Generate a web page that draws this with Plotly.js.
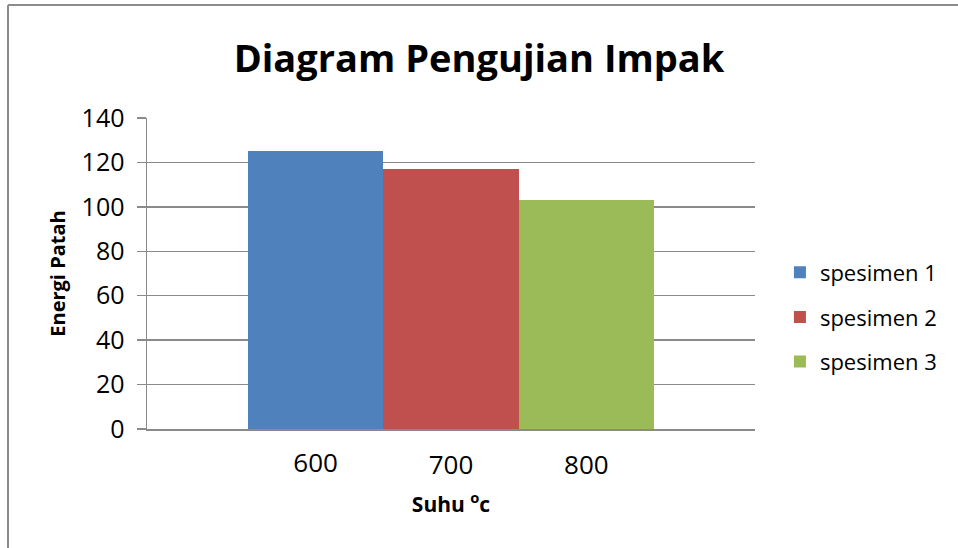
<!DOCTYPE html>
<html>
<head>
<meta charset="utf-8">
<script src="https://cdn.plot.ly/plotly-3.0.1.min.js"></script>
<style>html,body{margin:0;padding:0;background:#fff;}#chart{width:958px;height:548px;}</style>
</head>
<body>
<div id="chart"></div>
<script>
// Data
const categories = ["600", "700", "800"];
const seriesNames = ["spesimen 1", "spesimen 2", "spesimen 3"];
const seriesValues = [125, 117, 103];
const seriesColors = ["#4F81BD", "#C0504D", "#9BBB59"];
const yTicks = [0, 20, 40, 60, 80, 100, 120, 140];

const FONT = "'Open Sans', 'Noto Sans', sans-serif";

const traces = seriesNames.map((name, i) => ({
  type: "bar",
  name: name,
  x: [i],
  y: [seriesValues[i]],
  width: 1,
  xaxis: i === 0 ? "x" : "x2",
  marker: {color: seriesColors[i], line: {width: 0}},
  legendgroup: "g" + i,
  hoverinfo: "x+y+name"
}));

const layout = {
  width: 958,
  height: 548,
  margin: {l: 147, r: 203, t: 118, b: 119, pad: 0},
  paper_bgcolor: "#ffffff",
  plot_bgcolor: "#ffffff",
  barmode: "overlay",
  bargap: 0,
  title: {
    text: "<b>Diagram Pengujian Impak</b>",
    font: {family: FONT, size: 38, color: "#000"},
    x: 0.5, xanchor: "center", xref: "container",
    y: 1 - 59 / 548, yanchor: "middle", yref: "container"
  },
  xaxis: {
    range: [-1.245, 3.245],
    tickmode: "array",
    tickvals: [0],
    ticktext: [categories[0]],
    ticks: "",
    showgrid: false,
    zeroline: false,
    showline: true,
    linecolor: "#8a8a8a",
    linewidth: 1.5,
    tickfont: {family: FONT, size: 26, color: "#000"},
    ticklabelstandoff: 10,
    title: {
      text: "<b>Suhu <sup>o</sup>c</b>",
      font: {family: FONT, size: 21, color: "#000"},
      standoff: 18
    },
    fixedrange: true
  },
  xaxis2: {
    overlaying: "x",
    side: "bottom",
    anchor: "y",
    range: [-1.245, 3.245],
    tickmode: "array",
    tickvals: [1, 2],
    ticktext: [categories[1], categories[2]],
    ticks: "",
    showgrid: false,
    zeroline: false,
    showline: false,
    tickfont: {family: FONT, size: 26, color: "#000"},
    ticklabelstandoff: 18,
    fixedrange: true
  },
  yaxis: {
    range: [0, 140],
    tickmode: "array",
    tickvals: yTicks,
    ticktext: yTicks.map(String),
    ticks: "outside",
    ticklen: 9,
    tickwidth: 1.5,
    tickcolor: "#8a8a8a",
    showgrid: true,
    gridcolor: "#8a8a8a",
    gridwidth: 1.5,
    zeroline: false,
    showline: true,
    linecolor: "#8a8a8a",
    linewidth: 1.5,
    tickfont: {family: FONT, size: 25, color: "#000"},
    ticklabelstandoff: 7,
    title: {
      text: "<b>Energi Patah</b>",
      font: {family: FONT, size: 20, color: "#000"},
      standoff: 10
    },
    fixedrange: true
  },
  showlegend: true,
  legend: {
    x: 1.041, xanchor: "left",
    y: 0.36, yanchor: "middle",
    traceorder: "grouped",
    tracegroupgap: 13,
    font: {family: FONT, size: 22, color: "#000"},
    bgcolor: "rgba(0,0,0,0)",
    borderwidth: 0
  },
  shapes: [
    {type: "line", xref: "paper", yref: "paper",
     x0: (8 - 147) / 608, x1: (8 - 147) / 608,
     y0: (429 - 5) / 311, y1: (429 - 560) / 311,
     line: {color: "#8c8c8c", width: 2}},
    {type: "line", xref: "paper", yref: "paper",
     x0: (8 - 147) / 608, x1: (970 - 147) / 608,
     y0: (429 - 5) / 311, y1: (429 - 5) / 311,
     line: {color: "#8c8c8c", width: 2}}
  ]
};

Plotly.newPlot("chart", traces, layout, {displayModeBar: false, staticPlot: true});
</script>
</body>
</html>
